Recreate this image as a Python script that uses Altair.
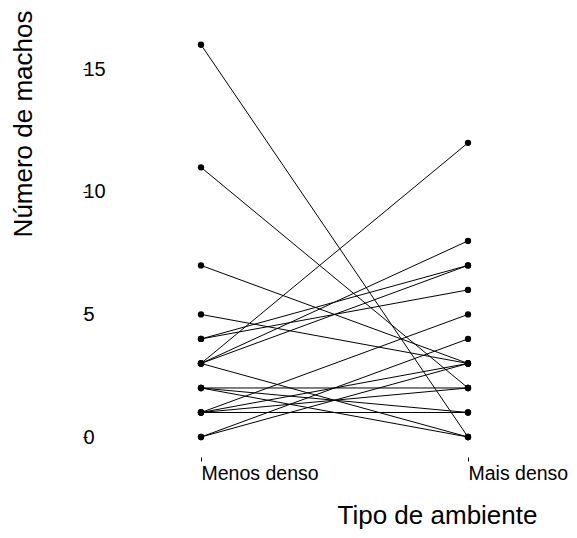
import altair as alt
import pandas as pd

# Each pair: (Menos denso, Mais denso)
menos_denso = [16, 11, 7, 5, 4, 4, 3, 3, 3, 3, 2, 2, 2, 1, 1, 1, 1, 0, 0]
mais_denso  = [0,  2,  3, 3, 6, 7, 12, 8, 7, 0, 2, 1, 0, 1, 2, 3, 5, 4, 3]
categorias = ["Menos denso", "Mais denso"]

rows = []
for i, (a, b) in enumerate(zip(menos_denso, mais_denso)):
    rows.append({"id": i, "ambiente": categorias[0], "machos": a})
    rows.append({"id": i, "ambiente": categorias[1], "machos": b})
df = pd.DataFrame(rows)

x = alt.X(
    "ambiente:N",
    sort=categorias,
    scale=alt.Scale(domain=categorias, type="point", padding=0),
    axis=alt.Axis(
        title="Tipo de ambiente",
        orient="bottom",
        offset=20,
        domain=False,
        grid=False,
        tickSize=4,
        tickColor="black",
        labelAngle=0,
        labelAlign="left",
        labelBaseline="top",
        labelPadding=3,
        labelFontSize=19.5,
        labelFont="Liberation Sans",
        labelColor="black",
        titleFont="Liberation Sans",
        titleFontSize=26,
        titleFontWeight="normal",
        titleColor="black",
        titleX=236,
        titleY=66,
        titleAlign="center",
        titleBaseline="alphabetic",
    ),
)
y = alt.Y(
    "machos:Q",
    scale=alt.Scale(domain=[0, 17.5], nice=False, zero=False),
    axis=alt.Axis(
        title="Número de machos",
        values=[0, 5, 10, 15],
        offset=114,
        domain=False,
        grid=False,
        tickSize=4,
        tickColor="black",
        labelAlign="left",
        labelBaseline="middle",
        labelPadding=0,
        labelFontSize=20,
        labelFont="Liberation Sans",
        labelColor="black",
        titleFont="Liberation Sans",
        titleFontSize=26,
        titleFontWeight="normal",
        titleColor="black",
        titleAngle=-90,
        titleX=-56,
        titleY=2,
        titleAlign="right",
        titleBaseline="alphabetic",
    ),
)

base = alt.Chart(df)
lines = base.mark_line(color="black", strokeWidth=1).encode(x=x, y=y, detail="id:N")
points = base.mark_circle(color="black", opacity=1, size=40).encode(x=x, y=y)

chart = (
    alt.layer(lines, points)
    .properties(
        width=267,
        height=429,
        background="white",
        autosize=alt.AutoSizeParams(type="none"),
        padding={"left": 193, "top": 0, "right": 100, "bottom": 93},
    )
    .configure_view(stroke="transparent")
    .configure_axis(grid=False)
)

chart.save("out.html", embed_options={"renderer": "svg", "actions": False})
